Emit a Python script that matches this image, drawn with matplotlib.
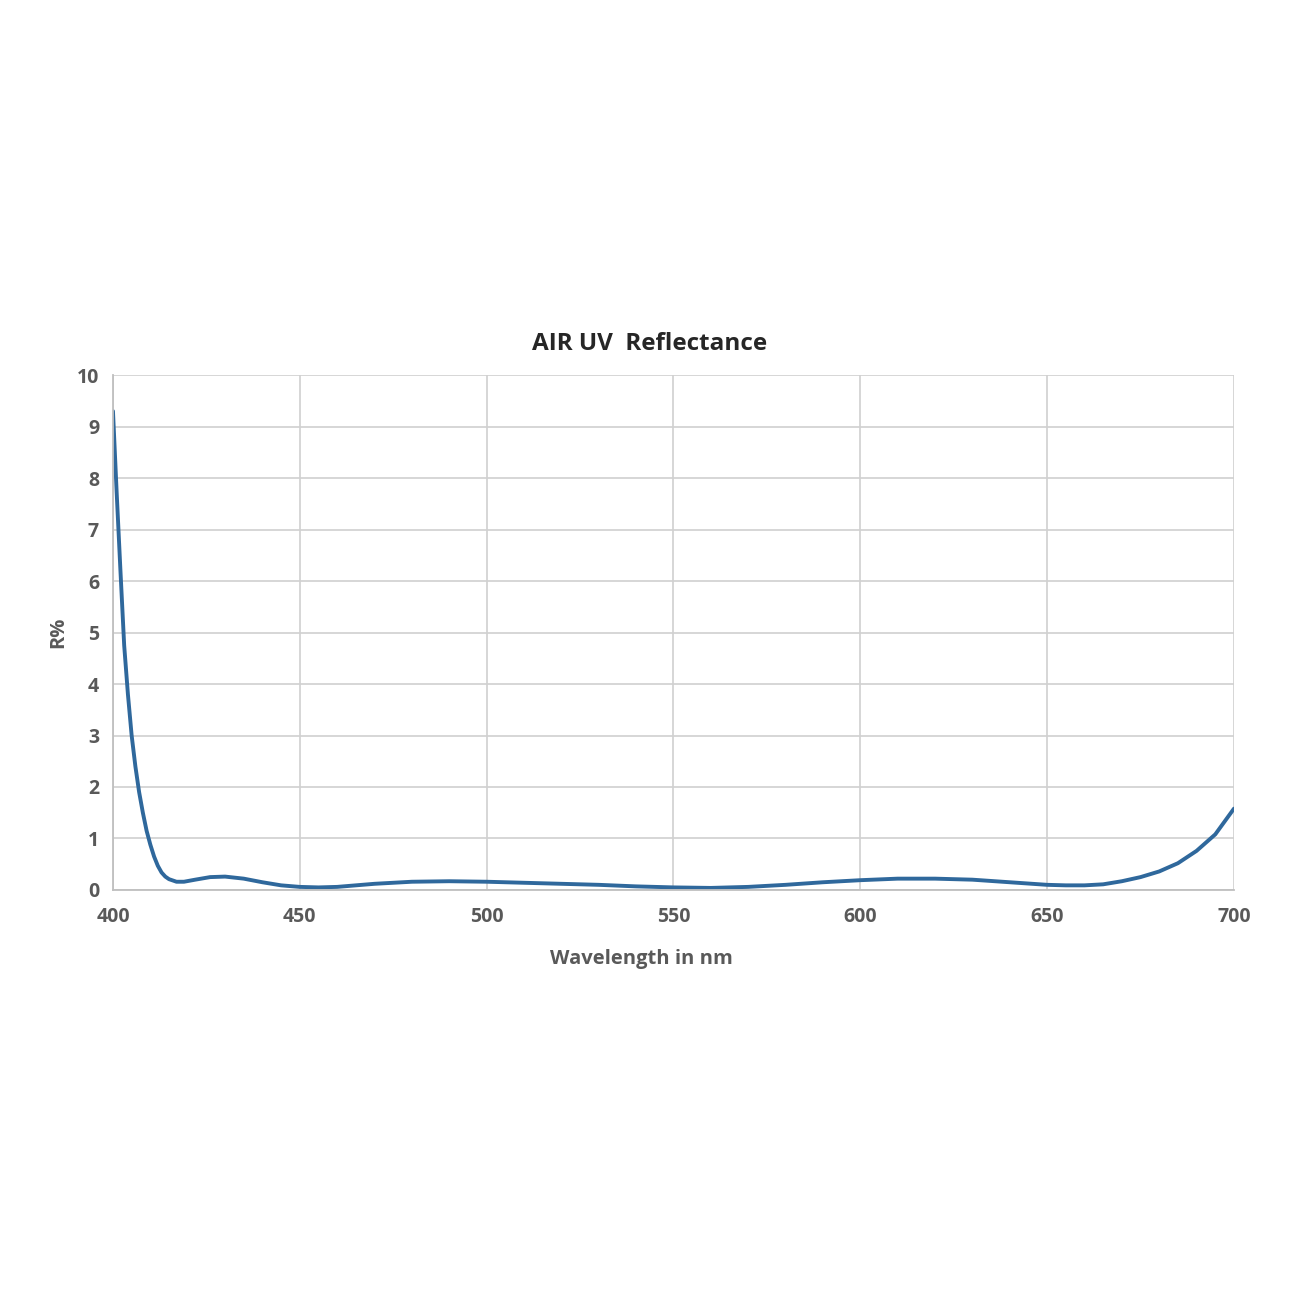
#!/usr/bin/env python3
"""
AIR UV reflectance curve
"""

import numpy as np
import matplotlib
matplotlib.use("Agg")
import matplotlib.pyplot as plt
import matplotlib.ticker as ticker

# ── colours ───────────────────────────────────────────────
C_LINE = "#2F689C"
C_GRID = "#D0D0D0"
C_TEXT = "#595959"
C_TITLE = "#262626"

# ── data (nm, R%) ─────────────────────────────────────────
wavelength = [400, 401, 402, 403, 404, 405, 406, 407, 408, 409, 410, 411,
              412, 413, 414, 415, 417, 419, 422, 426, 430, 435, 440, 445,
              450, 455, 460, 470, 480, 490, 500, 510, 520, 530, 540, 550,
              560, 570, 580, 590, 600, 610, 620, 630, 640, 650, 655, 660,
              665, 670, 675, 680, 685, 690, 695, 700]
reflectance = [9.3, 7.7, 6.2, 4.75, 3.8, 3.0, 2.4, 1.9, 1.5, 1.15, 0.88, 0.65,
               0.47, 0.34, 0.26, 0.21, 0.16, 0.16, 0.2, 0.25, 0.26, 0.22, 0.15, 0.09,
               0.06, 0.05, 0.06, 0.12, 0.16, 0.17, 0.16, 0.14, 0.12, 0.1, 0.07, 0.05,
               0.04, 0.06, 0.1, 0.15, 0.19, 0.22, 0.22, 0.2, 0.15, 0.1, 0.09, 0.09,
               0.11, 0.17, 0.25, 0.36, 0.52, 0.76, 1.08, 1.58]

plt.rcParams["font.family"] = ["Open Sans", "DejaVu Sans"]

fig = plt.figure(figsize=(13, 13), dpi=100)
ax = fig.add_axes([0.0869, 0.3154, 0.8623, 0.3961])

ax.plot(wavelength, reflectance, color=C_LINE, linewidth=2.8, solid_capstyle="round")

ax.set_xlim(400, 700)
ax.set_ylim(0, 10)
ax.xaxis.set_major_locator(ticker.MultipleLocator(50))
ax.yaxis.set_major_locator(ticker.MultipleLocator(1))

ax.grid(True, color=C_GRID, linewidth=1.2)
ax.set_axisbelow(True)
for side in ("top", "right"):
    ax.spines[side].set_visible(False)
for side in ("left", "bottom"):
    ax.spines[side].set_color("#BFBFBF")
    ax.spines[side].set_linewidth(1.3)

ax.tick_params(axis="x", length=0, pad=12, labelsize=14, labelcolor=C_TEXT)
ax.tick_params(axis="y", length=0, pad=10, labelsize=14, labelcolor=C_TEXT)
for lab in ax.get_xticklabels() + ax.get_yticklabels():
    lab.set_fontweight("bold")

ax.set_title("AIR UV  Reflectance", fontsize=17.5, fontweight="bold",
             color=C_TITLE, pad=18, x=0.479)
ax.set_xlabel("Wavelength in nm", fontsize=14.5, fontweight="bold",
              color=C_TEXT, labelpad=16, x=0.471)
ax.set_ylabel("R%", fontsize=14.5, fontweight="bold", color=C_TEXT, labelpad=6)

fig.savefig("out.png", dpi=100, facecolor="white")
